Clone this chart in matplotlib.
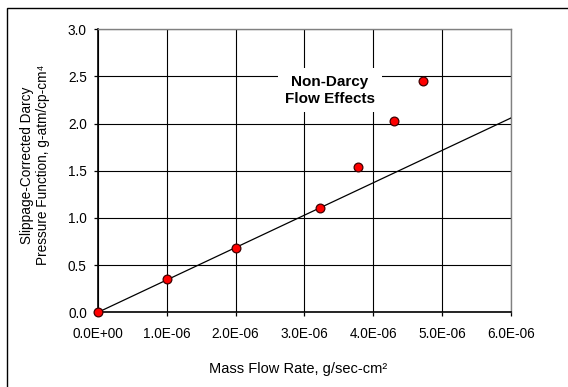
import matplotlib.pyplot as plt
from matplotlib.patches import Rectangle

plt.rcParams['font.family'] = ['Liberation Sans', 'DejaVu Sans']

# Measured points (mass flow rate vs. slippage-corrected pressure function)
mass_flow = [0.0, 1.0e-6, 2.0e-6, 3.22e-6, 3.78e-6, 4.30e-6, 4.72e-6]
pressure_fn = [0.0, 0.35, 0.68, 1.105, 1.54, 2.03, 2.45]

# Darcy line through the low-rate points
darcy_x = [0.0, 6.0e-6]
darcy_y = [0.0, 2.06]

x_ticks = [0, 1e-6, 2e-6, 3e-6, 4e-6, 5e-6, 6e-6]
x_tick_labels = ["0.0E+00", "1.0E-06", "2.0E-06", "3.0E-06", "4.0E-06", "5.0E-06", "6.0E-06"]
y_ticks = [0.0, 0.5, 1.0, 1.5, 2.0, 2.5, 3.0]

fig = plt.figure(figsize=(5.68, 3.87), dpi=100, facecolor="white")
ax = fig.add_axes([0.1725, 0.193, 0.7271, 0.7313])

# frame around the whole chart
fig.patches.append(Rectangle((7 / 568, -0.2), 2.0, 0.2 + 1 - 8 / 387,
                             transform=fig.transFigure, fill=False,
                             edgecolor="black", linewidth=1.0))

ax.plot(darcy_x, darcy_y, color="black", linewidth=0.9, zorder=3)
ax.plot(mass_flow, pressure_fn, linestyle="none", marker="o", markersize=6.3,
        markerfacecolor="#ff0000", markeredgecolor="#400000", markeredgewidth=0.9,
        clip_on=False, zorder=4)

ax.set_xlim(0, 6e-6)
ax.set_ylim(0, 3.0)
ax.set_xticks(x_ticks)
ax.set_xticklabels(x_tick_labels)
ax.set_yticks(y_ticks)
ax.set_yticklabels(["%.1f" % v for v in y_ticks])
ax.tick_params(axis="both", direction="out", length=3, width=0.9,
               labelsize=9.8, color="black")
ax.tick_params(axis="x", pad=7.5)
ax.tick_params(axis="y", pad=5)

ax.grid(True, color="black", linewidth=0.8)
ax.set_axisbelow(True)
for side in ["left", "bottom"]:
    ax.spines[side].set_linewidth(1.2)
    ax.spines[side].set_color("black")
for side in ["right", "top"]:
    ax.spines[side].set_linewidth(1.0)
    ax.spines[side].set_color("#808080")

ax.set_xlabel("Mass Flow Rate, g/sec-cm\u00b2", fontsize=10.5)
ax.set_ylabel("Slippage-Corrected Darcy\nPressure Function, g-atm/cp-cm\u2074",
              fontsize=9.8, linespacing=1.2)
ax.xaxis.set_label_coords(0.485, -0.175)
ax.yaxis.set_label_coords(-0.116, 0.52)

ax.text(3.37e-6, 2.355, "Non-Darcy\nFlow Effects", fontsize=11, fontweight="bold",
        ha="center", va="center", linespacing=1.25, zorder=5,
        bbox=dict(boxstyle="square,pad=0.45", facecolor="white", edgecolor="none"))

fig.savefig("out.png", dpi=100)
